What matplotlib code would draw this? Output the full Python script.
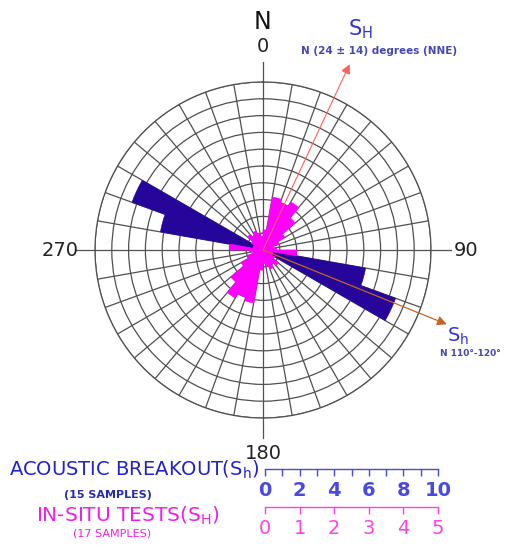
"""Rose diagram of stress orientations: acoustic breakouts vs in-situ tests."""
import matplotlib
matplotlib.use("Agg")
import matplotlib.pyplot as plt
import numpy as np

# bin start angles (deg, clockwise from N), 10 deg bins
bin_starts = np.arange(0, 360, 10)

# acoustic breakout counts (scale 0-10), bidirectional
breakout_dirs = [100, 110, 280, 290]
breakout_counts = [6.2, 8.4, 6.2, 8.3]

# in-situ test values (scale 0-5) for 0..170, mirrored to 180..350
insitu_half = [0.6, 1.6, 1.5, 1.65, 1.25, 0.75, 0.5, 0.3, 0.4,
               1.0, 0.3, 0.3, 0.4, 0.6, 0.5, 0.6, 0.5, 0.4]
insitu_vals = insitu_half + insitu_half

# principal stress directions (deg)
sH_dir = 25
sh_dir = 112

cardinal_deg = [0, 90, 180, 270]
cardinal_lbl = ["0", "90", "180", "270"]

breakout_ticks = [0, 2, 4, 6, 8, 10]
insitu_ticks = [0, 1, 2, 3, 4, 5]

BLUE_BAR = "#26069a"
BLUE_TXT = "#2222cc"
MAGENTA = "#ff00ff"
MAG_TXT = "#f01fe6"
GRID = "#505050"

W, H = 514, 550
fig = plt.figure(figsize=(W / 100, H / 100), dpi=100)


def fx(px):
    return px / W


def fy(py):
    return 1 - py / H


cx, cy, rad = 263, 250, 168
ax = fig.add_axes([fx(cx - rad), fy(cy + rad), 2 * rad / W, 2 * rad / H],
                  projection="polar")
ax.set_theta_zero_location("N")
ax.set_theta_direction(-1)
ax.set_ylim(0, 10)
ax.set_xticks(np.deg2rad(bin_starts))
ax.set_yticks(np.arange(1, 11))
ax.set_xticklabels([])
ax.set_yticklabels([])
ax.grid(True, color=GRID, lw=0.9)
ax.spines["polar"].set_color(GRID)
ax.spines["polar"].set_linewidth(0.9)
ax.set_axisbelow(True)

width = np.deg2rad(10)
ax.bar(np.deg2rad(breakout_dirs), breakout_counts, width=width, align="edge",
       color=BLUE_BAR, edgecolor=BLUE_BAR, lw=0.4, zorder=3)
# in-situ scale: 5 units over the 10 rings
ax.bar(np.deg2rad(bin_starts), np.array(insitu_vals) * 2, width=width,
       align="edge", color=MAGENTA, edgecolor=MAGENTA, lw=0.5, zorder=4)

# cardinal ticks and labels
for d, lbl in zip(cardinal_deg, cardinal_lbl):
    t = np.deg2rad(d)
    ax.plot([t, t], [10, 11.2], color=GRID, lw=0.9, clip_on=False)
    ax.text(t, 12.1, lbl, ha="center", va="center", fontsize=14,
            color="#222222")
ax.text(0, 13.6, "N", ha="center", va="center", fontsize=17, color="#111111")

# stress arrows
ax.annotate("", xy=(np.deg2rad(sH_dir), 12.2), xytext=(0, 0),
            arrowprops=dict(arrowstyle="-|>", color="#ff6060", lw=0.8,
                            mutation_scale=14, shrinkA=0, shrinkB=0),
            annotation_clip=False, zorder=5)
ax.annotate("", xy=(np.deg2rad(sh_dir), 11.8), xytext=(0, 0),
            arrowprops=dict(arrowstyle="-|>", color="#c8641e", lw=0.9,
                            mutation_scale=14, shrinkA=0, shrinkB=0),
            annotation_clip=False, zorder=5)

fig.text(fx(360), fy(29), r"S$_\mathrm{H}$", fontsize=15, color="#3434d4",
         ha="center", va="center")
fig.text(fx(379), fy(51), "N (24 \u00b1 14) degrees (NNE)", fontsize=7.5,
         color="#4646b4", ha="center", va="center", fontweight="bold")
fig.text(fx(458), fy(336), r"S$_\mathrm{h}$", fontsize=14, color="#3434d4",
         ha="center", va="center")
fig.text(fx(470), fy(353), "N 110\u00b0-120\u00b0", fontsize=6.5,
         color="#4646b4", ha="center", va="center", fontweight="bold")

# legend scales
fig.text(fx(134), fy(470), r"ACOUSTIC BREAKOUT(S$_\mathrm{h}$)", fontsize=14,
         color=BLUE_TXT, ha="center", va="center")
fig.text(fx(108), fy(495), "(15 SAMPLES)", fontsize=8, color="#2a2ab0",
         ha="center", va="center", fontweight="bold")
fig.text(fx(128), fy(516), r"IN-SITU TESTS(S$_\mathrm{H}$)", fontsize=14.5,
         color=MAG_TXT, ha="center", va="center")
fig.text(fx(112), fy(533), "(17 SAMPLES)", fontsize=8, color=MAG_TXT,
         ha="center", va="center")

x0, x1 = 265, 438


def scale_axis(py, ticks, color, minor, bold):
    sa = fig.add_axes([fx(x0), fy(py), (x1 - x0) / W, 0.0005])
    sa.set_xlim(ticks[0], ticks[-1])
    sa.set_yticks([])
    for s in ["top", "left", "right"]:
        sa.spines[s].set_visible(False)
    sa.spines["bottom"].set_color(color)
    sa.spines["bottom"].set_linewidth(1.0)
    sa.set_xticks(ticks)
    if minor is not None:
        sa.set_xticks(minor, minor=True)
    sa.tick_params(axis="x", which="both", length=5, width=1.0, color=color,
                   labelcolor=color, labelsize=14, pad=4)
    for lab in sa.get_xticklabels():
        lab.set_fontweight("bold" if bold else "normal")
    sa.patch.set_visible(False)


scale_axis(469, breakout_ticks, "#4a4ae0", np.arange(1, 10, 2), True)
scale_axis(507, insitu_ticks, "#ff40e8", None, False)

fig.savefig("out.png", dpi=100)
